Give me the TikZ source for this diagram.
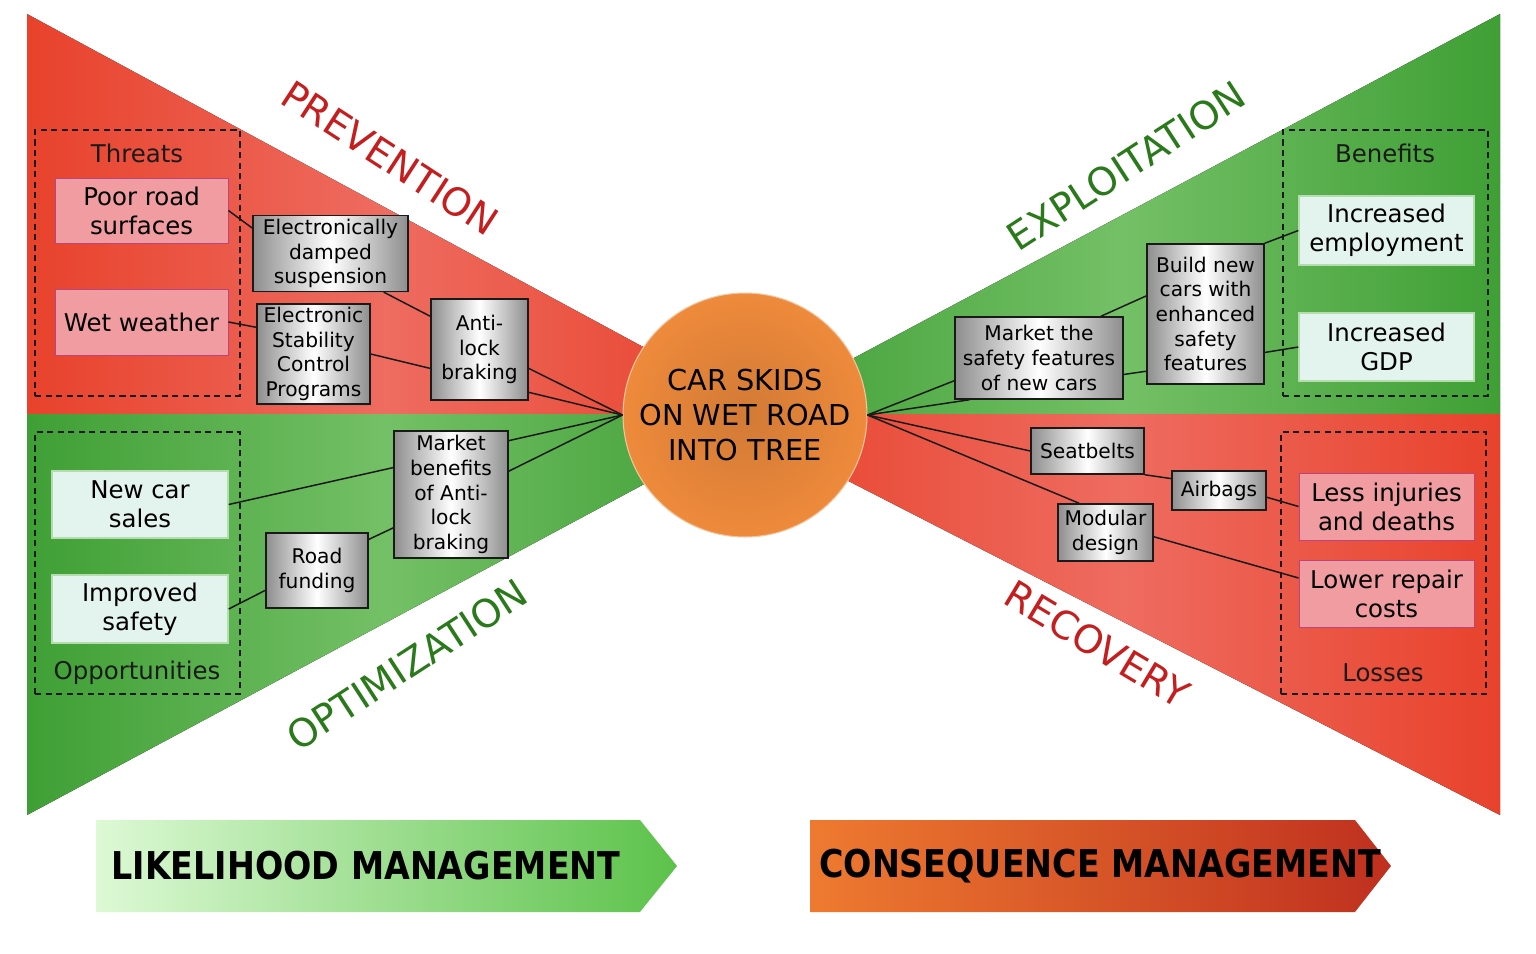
\documentclass[tikz,border=0pt]{standalone}
\usepackage{fontspec}
\setmainfont{DejaVu Sans}
\newfontfamily\bannerfont[FakeStretch=0.87]{DejaVu Sans}
\usetikzlibrary{backgrounds, shadows}
\definecolor{redside}{HTML}{E8422C}
\definecolor{redmid}{HTML}{EE6C60}
\definecolor{greenside}{HTML}{3F9F35}
\definecolor{greenmid}{HTML}{74C066}
\definecolor{threatfill}{HTML}{F09CA0}
\definecolor{threatborder}{HTML}{B8457E}
\definecolor{gainfill}{HTML}{E3F3EE}
\definecolor{gainborder}{HTML}{B5DCAE}
\definecolor{barrierside}{HTML}{8E8E8E}
\definecolor{eventfill}{HTML}{EE8A3B}
\definecolor{eventcore}{HTML}{D27A36}
\definecolor{eventborder}{HTML}{F2C7A0}
\definecolor{redtext}{HTML}{C41E1E}
\definecolor{greentext}{HTML}{2A7A1C}
\definecolor{likelyleft}{HTML}{DDF9D5}
\definecolor{likelyright}{HTML}{5CC24A}
\definecolor{consleft}{HTML}{EE7A30}
\definecolor{consright}{HTML}{BF301F}
\definecolor{darkline}{HTML}{1A1A1A}
\tikzset{
  group/.style={rectangle, draw=darkline, line width=1.1pt, dash pattern=on 3.5pt off 2.5pt},
  group-title/.style={font=\fontsize{13.9}{16}\selectfont, text=darkline},
  outcome/.style={rectangle, align=center, inner sep=2pt, font=\fontsize{13.9}{16.4}\selectfont},
  threat/.style={outcome, fill=threatfill, draw=threatborder, line width=0.5pt},
  gain/.style={outcome, fill=gainfill, draw=gainborder, line width=0.8pt},
  barrier/.style={rectangle, align=center, inner sep=2pt, draw=darkline, line width=0.85pt,
    left color=barrierside, right color=barrierside, middle color=white,
    drop shadow={shadow xshift=0.8pt, shadow yshift=-0.8pt, opacity=0.3},
    font=\fontsize{11.5}{14}\selectfont},
  event/.style={circle, inner sep=0pt, minimum size=4.88cm, inner color=eventcore, outer color=eventfill,
    draw=eventborder, line width=0.6pt, align=center, font=\fontsize{16.4}{19.8}\selectfont},
  link/.style={draw=darkline, line width=0.85pt},
  band-title/.style={font=\fontsize{22}{26}\selectfont},
  banner-title/.style={font=\bannerfont\bfseries\fontsize{21.8}{25}\selectfont}
}

\begin{document}
\begin{tikzpicture}[x=0.02cm, y=-0.02cm]

\useasboundingbox (0,0) rectangle (1536,954);

\begin{pgfonlayer}{background}
  \fill[white] (0,0) rectangle (1536,954);
  \fill[left color=redside, right color=redside, middle color=redmid] (27,14) -- (745,402) -- (745,414) -- (27,414) -- cycle;
  \fill[left color=greenside, right color=greenside, middle color=greenmid] (27,414) -- (745,414) -- (745,430) -- (27,815) -- cycle;
  \fill[left color=greenside, right color=greenside, middle color=greenmid] (1500,14) -- (745,416) -- (745,414) -- (1500,414) -- cycle;
  \fill[left color=redside, right color=redside, middle color=redmid] (1500,815) -- (745,428) -- (745,414) -- (1500,414) -- cycle;
\end{pgfonlayer}

% groups
\node[group, minimum width=4.1cm, minimum height=5.32cm] (threats) at (137.5,263) {};
\node[group, minimum width=4.1cm, minimum height=5.24cm] (opportunities) at (137.5,563) {};
\node[group, minimum width=4.1cm, minimum height=5.32cm] (benefits) at (1385.5,263) {};
\node[group, minimum width=4.1cm, minimum height=5.24cm] (losses) at (1383.5,563) {};
\node[group-title] (threats-title) at (137,153) {Threats};
\node[group-title] (opportunities-title) at (137,673) {Opportunities};
\node[group-title] (benefits-title) at (1385,153) {Benefits};
\node[group-title] (losses-title) at (1383,673) {Losses};

% band labels
\node[band-title, text=redtext, rotate=-33] (prevention) at (390,158) {PREVENTION};
\node[band-title, text=greentext, rotate=33] (exploitation) at (1126,166) {EXPLOITATION};
\node[band-title, text=greentext, rotate=33] (optimization) at (407,665) {OPTIMIZATION};
\node[band-title, text=redtext, rotate=-31] (recovery) at (1097,644) {RECOVERY};

% top event
\node[event] (event) at (745,415) {CAR SKIDS\\ON WET ROAD\\INTO TREE};

% prevention side
\node[threat, minimum width=3.46cm, minimum height=1.30cm] (poorroad) at (141.5,210.5) {Poor road\\surfaces};
\node[threat, minimum width=3.46cm, minimum height=1.32cm] (wetweather) at (141.5,322) {Wet weather};
\node[barrier, minimum width=3.10cm, minimum height=1.42cm] (suspension) at (330.5,253.5) {Electronically\\damped\\suspension};
\node[barrier, minimum width=2.26cm, minimum height=2.0cm] (stability) at (313.5,354) {Electronic\\Stability\\Control\\Programs};
\node[barrier, minimum width=1.94cm, minimum height=2.02cm] (antilock) at (479.5,349.5) {Anti-\\lock\\braking};

% optimization side
\node[gain, minimum width=3.52cm, minimum height=1.34cm] (newcars) at (140,504.5) {New car\\sales};
\node[gain, minimum width=3.52cm, minimum height=1.36cm] (safety) at (140,609) {Improved\\safety};
\node[barrier, minimum width=2.28cm, minimum height=2.54cm] (marketabs) at (451,494.5) {Market\\benefits\\of Anti-\\lock\\braking};
\node[barrier, minimum width=2.04cm, minimum height=1.5cm] (funding) at (317,570.5) {Road\\funding};

% exploitation side
\node[gain, minimum width=3.5cm, minimum height=1.38cm] (employment) at (1386.5,230.5) {Increased\\employment};
\node[gain, minimum width=3.5cm, minimum height=1.36cm] (gdp) at (1386.5,347) {Increased\\GDP};
\node[barrier, minimum width=2.34cm, minimum height=2.8cm] (buildcars) at (1205.5,314) {Build new\\cars with\\enhanced\\safety\\features};
\node[barrier, minimum width=3.36cm, minimum height=1.64cm] (marketsafety) at (1039,358) {Market the\\safety features\\of new cars};

% recovery side
\node[threat, minimum width=3.5cm, minimum height=1.34cm] (injuries) at (1386.5,506.5) {Less injuries\\and deaths};
\node[threat, minimum width=3.5cm, minimum height=1.34cm] (repair) at (1386.5,593.5) {Lower repair\\costs};
\node[barrier, minimum width=2.26cm, minimum height=0.92cm] (seatbelts) at (1087.5,451) {Seatbelts};
\node[barrier, minimum width=1.88cm, minimum height=0.78cm] (airbags) at (1219,490.5) {Airbags};
\node[barrier, minimum width=1.9cm, minimum height=1.14cm] (modular) at (1105.5,532.5) {Modular\\design};

% links
\draw[link] (poorroad.east) -- (suspension.162);
\draw[link] (wetweather.east) -- (stability.155);
\draw[link] (suspension.-36) -- (antilock.146);
\draw[link] (stability.east) -- (antilock.-159);
\draw[link] (antilock.-21) -- (event.west);
\draw[link] (antilock.-41) -- (event.west);

\draw[link] (newcars.east) -- (marketabs.155);
\draw[link] (safety.east) -- (funding.201);
\draw[link] (funding.31) -- (marketabs.210);
\draw[link] (marketabs.43) -- (event.west);
\draw[link] (marketabs.22) -- (event.west);

\draw[link] (event.east) -- (marketsafety.195);
\draw[link] (event.east) -- (marketsafety.211);
\draw[link] (marketsafety.34) -- (buildcars.163);
\draw[link] (marketsafety.-11) -- (buildcars.224);
\draw[link] (buildcars.north east) -- (employment.west);
\draw[link] (buildcars.-33) -- (gdp.west);

\draw[link] (event.east) -- (seatbelts.west);
\draw[link] (event.east) -- (modular.132);
\draw[link] (seatbelts.south east) -- (airbags.166);
\draw[link] (airbags.-8) -- (injuries.west);
\draw[link] (modular.-5) -- (repair.170);

% management banners
\shade[left color=likelyleft, right color=likelyright] (96,820) -- (640,820) -- (677,866) -- (640,912) -- (96,912) -- cycle;
\shade[left color=consleft, right color=consright] (810,820) -- (1355,820) -- (1391,866) -- (1355,912) -- (810,912) -- cycle;
\node[banner-title] (likelihood) at (366,866) {LIKELIHOOD MANAGEMENT};
\node[banner-title] (consequence) at (1100,866) {CONSEQUENCE MANAGEMENT};

\end{tikzpicture}
\end{document}
